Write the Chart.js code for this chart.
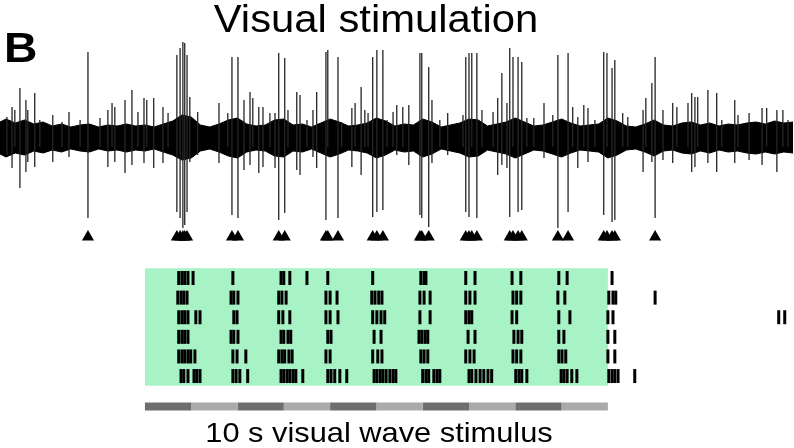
<!DOCTYPE html>
<html>
<head>
<meta charset="utf-8">
<script src="https://cdn.jsdelivr.net/npm/chart.js@4/dist/chart.umd.min.js"></script>
<style>
  html, body { margin: 0; padding: 0; background: #ffffff; }
  #wrap { position: relative; width: 794px; height: 448px; overflow: hidden; background: #ffffff; }
  #plot { position: absolute; left: 0; top: 0; }
  .txt { position: absolute; font-family: "Liberation Sans", Arial, sans-serif; color: #000; white-space: nowrap; line-height: 1; }
  #title { left: 375.5px; top: -0.5px; font-size: 38px; transform: translateX(-50%) scaleX(1.1); }
  #panel { left: 3.6px; top: 27.4px; font-size: 42px; font-weight: bold; transform-origin: left top; transform: scaleX(1.1); }
  #stimLabel { left: 378.5px; top: 419.3px; font-size: 28px; transform: translateX(-50%) scaleX(1.1); }
</style>
</head>
<body>
<div id="wrap">
  <canvas id="plot" width="794" height="448"></canvas>
  <div class="txt" id="title">Visual stimulation</div>
  <div class="txt" id="panel">B</div>
  <div class="txt" id="stimLabel">10 s visual wave stimulus</div>
</div>
<script>
// ---- Extracellular trace: noise band envelope (s, µV) ----
const bandTime = [
  -3.13, -3.0, -2.8, -2.6, -2.4, -2.2, -2.0, -1.8, -1.6, -1.4,
  -1.2, -1.0, -0.8, -0.6, -0.4, -0.2, 0.0, 0.2, 0.4, 0.6,
  0.8, 1.0, 1.2, 1.4, 1.6, 1.8, 2.0, 2.2, 2.4, 2.6,
  2.8, 3.0, 3.2, 3.4, 3.6, 3.8, 4.0, 4.2, 4.4, 4.6,
  4.8, 5.0, 5.2, 5.4, 5.6, 5.8, 6.0, 6.2, 6.4, 6.6,
  6.8, 7.0, 7.2, 7.4, 7.6, 7.8, 8.0, 8.2, 8.4, 8.6,
  8.8, 9.0, 9.2, 9.4, 9.6, 9.8, 10.0, 10.2, 10.4, 10.6,
  10.8, 11.0, 11.2, 11.4, 11.6, 11.8, 12.0, 12.2, 12.4, 12.6,
  12.8, 13.0, 13.2, 13.4, 13.6, 13.8, 14.0
];
const bandUpper = [
  30, 36, 28, 34, 26, 30, 22, 26, 20, 24,
  26, 20, 24, 22, 26, 22, 24, 20, 26, 32,
  44, 40, 24, 20, 26, 34, 38, 26, 22, 24,
  34, 36, 24, 26, 20, 28, 36, 30, 22, 24,
  28, 38, 32, 22, 26, 24, 36, 30, 20, 24,
  28, 36, 34, 22, 26, 30, 38, 30, 22, 24,
  30, 36, 28, 22, 24, 26, 38, 32, 22, 20,
  26, 34, 24, 22, 28, 30, 24, 28, 22, 26,
  24, 28, 30, 26, 32, 28, 30
];
const bandLower = [
  -34, -40, -32, -36, -28, -32, -26, -30, -24, -28,
  -30, -24, -28, -26, -30, -26, -28, -24, -30, -36,
  -46, -42, -28, -24, -30, -38, -42, -30, -26, -28,
  -38, -40, -28, -30, -24, -32, -40, -34, -26, -28,
  -32, -42, -36, -26, -30, -28, -40, -34, -24, -28,
  -32, -40, -38, -26, -30, -34, -42, -34, -26, -28,
  -34, -40, -32, -26, -28, -30, -42, -36, -26, -24,
  -30, -38, -28, -26, -32, -34, -28, -32, -26, -30,
  -28, -32, -34, -30, -34, -30, -32
];

// ---- Spikes standing out of the noise: time (s), positive peak and negative trough (µV) ----
const spikeTime = [
  -2.98, -2.87, -2.81, -2.70, -2.57, -2.53, -2.38, -2.27, -1.99, -1.79,
  -1.64, -1.40, -1.23, -0.97, -0.80, -0.71, -0.65, -0.43, -0.28, -0.15,
  -0.02, 0.04, 0.19, 0.39, 0.50, 0.69, 0.76, 0.82, 0.86, 0.91,
  0.97, 1.14, 1.60, 1.79, 1.88, 2.01, 2.14, 2.27, 2.33, 2.46,
  2.55, 2.70, 2.81, 2.89, 3.02, 3.09, 3.28, 3.35, 3.50, 3.63,
  3.71, 3.91, 3.95, 4.17, 4.25, 4.47, 4.54, 4.67, 4.75, 4.82,
  4.92, 5.01, 5.14, 5.23, 5.36, 5.44, 5.57, 5.70, 5.94, 5.98,
  6.13, 6.20, 6.37, 6.54, 6.87, 6.93, 7.00, 7.06, 7.17, 7.28,
  7.52, 7.62, 7.71, 7.82, 7.88, 7.95, 8.06, 8.14, 8.25, 8.40,
  8.62, 8.81, 8.92, 9.14, 9.24, 9.35, 9.48, 9.57, 9.72, 9.91,
  9.98, 10.09, 10.15, 10.32, 10.43, 10.76, 10.82, 10.95, 11.02, 11.19,
  11.40, 11.49, 11.73, 11.81, 11.88, 11.94, 12.16, 12.35, 12.46, 12.74,
  12.81, 13.05, 13.33, 13.43, 13.65, 13.78, 13.89
];
const spikePeak = [
  40, 60, 54, 98, 74, 54, 88, 34, 44, 30,
  50, 34, 170, 38, 54, 68, 60, 74, 94, 50,
  78, 74, 78, 60, 48, 164, 178, 190, 188, 164,
  80, 50, 68, 48, 160, 160, 74, 90, 78, 60,
  60, 48, 48, 168, 158, 54, 90, 84, 34, 54,
  90, 170, 174, 160, 30, 58, 68, 100, 54, 48,
  160, 174, 174, 34, 50, 64, 60, 64, 168, 168,
  140, 74, 34, 48, 44, 160, 168, 168, 168, 54,
  50, 78, 128, 68, 178, 160, 160, 150, 38, 38,
  68, 44, 164, 168, 60, 40, 64, 58, 34, 170,
  168, 138, 154, 48, 40, 54, 78, 108, 160, 54,
  68, 60, 68, 88, 80, 80, 94, 88, 34, 74,
  44, 48, 58, 58, 54, 54, 34
];
const spikeTrough = [
  -36, -62, -20, -102, -70, -50, -60, -20, -50, -20,
  -40, -20, -162, -20, -60, -20, -50, -72, -56, -20,
  -52, -20, -62, -52, -20, -150, -162, -182, -176, -150,
  -50, -36, -52, -20, -156, -162, -66, -56, -20, -72,
  -60, -20, -62, -166, -152, -20, -66, -76, -20, -40,
  -62, -166, -20, -162, -20, -60, -20, -76, -20, -20,
  -160, -150, -146, -20, -20, -36, -20, -56, -156, -162,
  -180, -52, -20, -36, -20, -150, -160, -20, -162, -20,
  -20, -76, -56, -62, -160, -20, -150, -146, -20, -20,
  -42, -20, -182, -150, -20, -62, -20, -50, -20, -156,
  -20, -170, -166, -20, -20, -70, -20, -50, -162, -46,
  -52, -20, -20, -70, -60, -20, -52, -70, -20, -52,
  -20, -46, -56, -20, -70, -20, -20
];

// ---- Raster: spike times (s) for each repeated presentation ----
const trial1 = [0.73, 0.80, 0.86, 0.93, 1.04, 1.90, 2.94, 3.00, 3.13, 3.50, 3.95, 4.92,
  5.96, 6.03, 6.07, 6.93, 7.13, 7.93, 8.12, 8.94, 9.12, 10.09];
const trial2 = [0.71, 0.78, 0.84, 0.91, 1.86, 1.92, 2.01, 2.89, 2.96, 3.05, 3.91, 4.00, 4.15,
  4.90, 4.97, 5.05, 5.12, 5.94, 6.03, 6.16, 6.93, 7.02, 7.13, 7.95, 8.03, 8.12, 8.92, 9.07,
  10.02, 10.11, 10.17, 11.02];
const trial3 = [0.73, 0.80, 0.86, 0.93, 1.10, 1.19, 1.92, 1.99, 2.89, 2.98, 3.13, 3.91, 4.00, 4.17,
  4.92, 5.01, 5.10, 5.18, 5.94, 6.16, 6.93, 7.00, 7.06, 7.93, 8.03, 8.94, 9.18, 10.00, 10.11,
  13.69, 13.82];
const trial4 = [0.73, 0.80, 0.86, 0.93, 1.86, 1.92, 2.01, 2.94, 3.00, 3.09, 3.15, 3.95, 4.02,
  4.95, 5.10, 5.92, 5.98, 6.05, 6.11, 6.98, 7.13, 7.97, 8.06, 8.14, 8.94, 9.05, 10.00, 10.15];
const trial5 = [0.73, 0.80, 0.86, 0.93, 0.99, 1.08, 1.90, 1.99, 2.18, 2.89, 2.96, 3.02, 3.11, 3.18,
  3.91, 4.00, 4.92, 5.03, 5.12, 5.96, 6.03, 6.11, 6.93, 7.02, 7.11, 7.95, 8.03, 8.12,
  8.94, 9.01, 9.09, 10.00, 10.15];
const trial6 = [0.78, 0.84, 0.93, 1.06, 1.12, 1.19, 1.90, 1.97, 2.05, 2.22, 2.94, 3.00, 3.07, 3.13,
  3.20, 3.26, 3.41, 3.95, 4.02, 4.10, 4.21, 4.36, 4.95, 5.01, 5.08, 5.14, 5.21, 5.29, 5.36, 5.42,
  6.00, 6.07, 6.13, 6.24, 6.31, 6.37, 7.00, 7.06, 7.15, 7.24, 7.32, 7.41, 7.49,
  8.01, 8.08, 8.14, 8.25, 8.99, 9.05, 9.12, 9.22, 9.33, 10.02, 10.09, 10.15, 10.22, 10.58];
const trials = [trial1, trial2, trial3, trial4, trial5, trial6];

// ---- Stimulus: ten 1-s phases of the visual wave, alternating dark/light ----
const stimulusEdges = [0, 1, 2, 3, 4, 5, 6, 7, 8, 9, 10];
const stimulusPhase = ['dark', 'light', 'dark', 'light', 'dark', 'light', 'dark', 'light', 'dark', 'light'];

// spikes marked with a triangle: those above this amplitude (µV)
const markThreshold = 135;

// ---- styling / layout constants ----
const PHASE_COLOR = { dark: '#6e6e6e', light: '#aaaaaa' };
const GREEN = '#a8f3c6';
const MARK_LEVEL = -200;     // µV level at which spike markers sit
const STIM_ROW = 7.55;       // raster row used for the stimulus bar
const ROW_TOP = 0.5, ROW_BOTTOM = 6.5;

const datasets = [];

// noise band (upper edge filled down to lower edge)
datasets.push({
  type: 'line', yAxisID: 'amp', order: 5,
  data: bandTime.map((t, i) => ({ x: t, y: bandUpper[i] })),
  borderColor: '#000', borderWidth: 1, pointRadius: 0, tension: 0,
  backgroundColor: '#000', fill: '+1'
});
datasets.push({
  type: 'line', yAxisID: 'amp', order: 5,
  data: bandTime.map((t, i) => ({ x: t, y: bandLower[i] })),
  borderColor: '#000', borderWidth: 1, pointRadius: 0, tension: 0, fill: false
});

// individual spikes as vertical strokes
const spikeSegs = [];
spikeTime.forEach((t, i) => {
  spikeSegs.push({ x: t, y: spikeTrough[i] }, { x: t, y: spikePeak[i] }, { x: t, y: null });
});
datasets.push({
  type: 'line', yAxisID: 'amp', order: 4,
  data: spikeSegs, spanGaps: false,
  borderColor: '#262626', borderWidth: 1.3, pointRadius: 0, tension: 0, fill: false
});

// triangle markers under the large spikes
datasets.push({
  type: 'scatter', yAxisID: 'amp', order: 3,
  data: spikeTime.filter((t, i) => spikePeak[i] >= markThreshold).map(t => ({ x: t, y: MARK_LEVEL })),
  pointStyle: 'triangle', pointRadius: 7, backgroundColor: '#000', borderWidth: 0
});

// stimulus window shading behind the raster
datasets.push({
  type: 'line', yAxisID: 'trial', order: 20,
  data: [{ x: stimulusEdges[0], y: ROW_TOP }, { x: stimulusEdges[stimulusEdges.length - 1], y: ROW_TOP }],
  borderWidth: 0, pointRadius: 0, backgroundColor: GREEN, fill: { value: ROW_BOTTOM }
});

// raster ticks
trials.forEach((times, k) => {
  datasets.push({
    type: 'scatter', yAxisID: 'trial', order: 2,
    data: times.map(t => ({ x: t, y: k + 1 })),
    pointStyle: 'line', rotation: 90, pointRadius: 7,
    borderColor: '#000', borderWidth: 3, backgroundColor: '#000'
  });
});

// stimulus bar
stimulusPhase.forEach((ph, i) => {
  datasets.push({
    type: 'line', yAxisID: 'trial', order: 6,
    data: [{ x: stimulusEdges[i], y: STIM_ROW }, { x: stimulusEdges[i + 1], y: STIM_ROW }],
    borderColor: PHASE_COLOR[ph], borderWidth: 8, borderCapStyle: 'butt',
    pointRadius: 0, fill: false
  });
});

new Chart(document.getElementById('plot'), {
  type: 'scatter',
  data: { datasets },
  options: {
    responsive: false,
    animation: false,
    events: [],
    layout: { padding: 0, autoPadding: false },
    plugins: { legend: { display: false }, tooltip: { enabled: false }, title: { display: false } },
    scales: {
      x: { type: 'linear', min: -3.13, max: 14.02, display: false },
      amp: { type: 'linear', position: 'left', min: -622, max: 274, display: false },
      trial: { type: 'linear', position: 'right', min: -13.18, max: 9.67, reverse: true, display: false }
    }
  }
});
</script>
</body>
</html>
